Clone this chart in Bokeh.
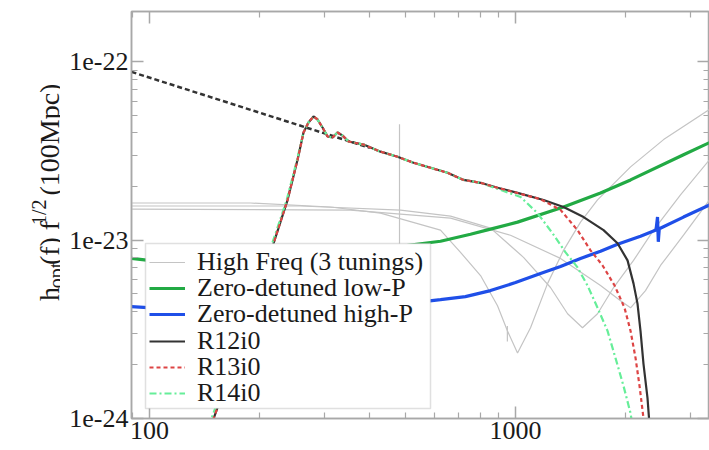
from math import pi
from bokeh.plotting import figure
from bokeh.layouts import row
from bokeh.models import (FixedTicker, CustomJSTickFormatter, LogAxis, Legend,
                          LegendItem, Range1d, Label, BoxAnnotation)
from bokeh.embed import file_html
from bokeh.resources import INLINE

# ---------------- data (frequency in Hz, h_opt(f) f^1/2 at 100 Mpc) ----------------
inspiral_f = [89.3, 400.0]
inspiral_h = [8.8e-23, 3.3e-23]

r12_f = [147, 166.4, 188.8, 218.3, 238.3, 253.8, 263.5, 271.9, 280.6, 287.7, 297.0, 306.5,
         316.2, 326.3, 336.7, 349.7, 384.4, 427.7, 476.0, 526.5, 586.0, 652.0, 721.0, 802.5,
         892.9, 1012.7, 1192.8, 1352.5, 1534, 1739.5, 1899.6, 2023, 2101, 2154, 2195, 2237,
         2294, 2330]
r12_h = [9.0e-25, 1.84e-24, 4.02e-24, 9.62e-24, 1.68e-23, 2.83e-23, 4.02e-23, 4.58e-23,
         4.95e-23, 4.76e-23, 4.29e-23, 3.82e-23, 3.77e-23, 4.02e-23, 3.87e-23, 3.58e-23,
         3.44e-23, 3.14e-23, 2.94e-23, 2.72e-23, 2.55e-23, 2.39e-23, 2.18e-23, 2.10e-23,
         1.97e-23, 1.843e-23, 1.683e-23, 1.536e-23, 1.349e-23, 1.139e-23, 9.62e-24, 7.71e-24,
         5.71e-24, 4.41e-24, 3.10e-24, 2.02e-24, 1.30e-24, 8.5e-25]

r13_f = [147, 166.4, 188.8, 218.3, 238.3, 253.8, 263.5, 271.9, 280.6, 287.7, 297.0, 306.5,
         316.2, 326.3, 336.7, 349.7, 384.4, 427.7, 476.0, 526.5, 586.0, 652.0, 721.0, 802.5,
         892.9, 1012.7, 1170, 1327, 1477, 1603, 1729, 1865, 1985, 2062, 2128, 2182, 2237, 2252]
r13_h = [9.0e-25, 1.84e-24, 4.02e-24, 9.62e-24, 1.68e-23, 2.83e-23, 4.02e-23, 4.58e-23,
         4.95e-23, 4.76e-23, 4.29e-23, 3.82e-23, 3.77e-23, 4.02e-23, 3.87e-23, 3.58e-23,
         3.44e-23, 3.14e-23, 2.94e-23, 2.72e-23, 2.55e-23, 2.39e-23, 2.18e-23, 2.10e-23,
         1.97e-23, 1.84e-23, 1.70e-23, 1.48e-23, 1.139e-23, 8.78e-24, 7.22e-24, 5.57e-24,
         4.18e-24, 3.10e-24, 2.18e-24, 1.52e-24, 1.0e-24, 8.5e-25]

r14_f = [145, 164.5, 186.5, 216.5, 237.0, 253.0, 263.5, 271.9, 280.6, 287.7, 297.0, 306.5,
         316.2, 326.3, 336.7, 349.7, 384.4, 427.7, 476.0, 526.5, 586.0, 652.0, 721.0, 802.5,
         910, 1032, 1148, 1262, 1370, 1477, 1573, 1675, 1784, 1876, 1973, 2062, 2088]
r14_h = [9.0e-25, 1.84e-24, 4.02e-24, 9.62e-24, 1.68e-23, 2.83e-23, 4.02e-23, 4.58e-23,
         4.95e-23, 4.76e-23, 4.29e-23, 3.82e-23, 3.77e-23, 4.02e-23, 3.87e-23, 3.58e-23,
         3.44e-23, 3.14e-23, 2.94e-23, 2.72e-23, 2.55e-23, 2.39e-23, 2.18e-23, 2.10e-23,
         1.916e-23, 1.75e-23, 1.42e-23, 1.095e-23, 8.55e-24, 7.04e-24, 5.57e-24, 4.18e-24,
         3.10e-24, 2.18e-24, 1.52e-24, 1.07e-24, 9.0e-25]

zdlp_f = [89.3, 137.8, 201.1, 293.2, 377.2, 485.1, 623.8, 753.4, 854.5, 1012.7, 1352.5,
          1707, 2062, 2877, 3388]
zdlp_h = [7.91e-24, 7.13e-24, 6.95e-24, 7.41e-24, 8.12e-24, 9.25e-24, 9.87e-24, 1.081e-23,
          1.154e-23, 1.264e-23, 1.536e-23, 1.843e-23, 2.18e-23, 3.02e-23, 3.53e-23]

zdhp_f = [89.3, 137.8, 258.5, 427.7, 623.8, 729.6, 854.5, 1000, 1170, 1327, 1505, 1707,
          1899.6, 2195, 2420, 2443, 2455, 2470, 2877, 3388]
zdhp_h = [4.24e-24, 4.02e-24, 3.97e-24, 4.24e-24, 4.64e-24, 4.83e-24, 5.22e-24, 5.79e-24,
          6.51e-24, 7.13e-24, 7.91e-24, 8.67e-24, 9.49e-24, 1.053e-23, 1.14e-23, 1.35e-23,
          9.8e-24, 1.16e-23, 1.349e-23, 1.577e-23]

hfA_f = [89.3, 188.8, 312.3, 427.7, 623.8, 707.5, 802.5, 892.9, 950.7, 1012.7, 1099, 1223,
         1352.5, 1505, 1675, 2062, 2538, 3388]
hfA_h = [1.618e-23, 1.618e-23, 1.536e-23, 1.42e-23, 1.139e-23, 8.55e-24, 6.34e-24, 4.29e-24,
         3.10e-24, 2.33e-24, 3.23e-24, 5.71e-24, 8.78e-24, 1.264e-23, 1.683e-23, 2.58e-23,
         3.67e-23, 5.42e-23]

hfB_f = [89.3, 258.5, 485.1, 664.5, 854.5, 1051.6, 1246, 1387.5, 1524, 1675, 1853, 2101,
         2383, 2823, 3388]
hfB_h = [1.556e-23, 1.556e-23, 1.477e-23, 1.366e-23, 1.169e-23, 8.02e-24, 5.43e-24,
         3.87e-24, 3.23e-24, 3.87e-24, 5.43e-24, 7.71e-24, 1.139e-23, 1.795e-23, 2.83e-23]

hfC_f = [89.3, 354.1, 664.5, 969, 1327, 1707, 1936, 2062, 2265, 2490, 2877, 3388]
hfC_h = [1.496e-23, 1.477e-23, 1.331e-23, 1.067e-23, 7.91e-24, 5.57e-24, 4.58e-24,
         4.18e-24, 5.22e-24, 7.22e-24, 1.067e-23, 1.683e-23]

violin_f = [482, 482]
violin_h = [4.47e-23, 7.0e-24]
notch_f = [950, 950]
notch_h = [3.3e-24, 2.7e-24]

x_major = [100, 1000]
x_minor = [90, 200, 300, 400, 500, 600, 700, 800, 900, 2000, 3000]
y_major = [1e-24, 1e-23, 1e-22]
y_minor = [m * 10.0 ** e for e in (-24, -23, -22) for m in range(2, 10)]

legend_labels = ["High Freq (3 tunings)", "Zero-detuned low-P", "Zero-detuned high-P",
                 "R12i0", "R13i0", "R14i0"]

# y-axis title pieces: h_opt(f) f^{1/2} (100Mpc)
ytitle_text = ["h", "opt", "(f) f", "1/2", "(100Mpc)"]
ytitle_size = ["28px", "20px", "28px", "20px", "28px"]
ytitle_x = [49, 55, 49, 38, 49]
ytitle_y = [130, 144, 169.6, 213.9, 246.5]

# legend layout (screen px from the frame's bottom-left corner)
legend_box = dict(left=14, right=299, bottom=10, top=175)
legend_row_y = [141, 114.8, 88.6, 62.4, 36.2, 10]

# ---------------- figures ----------------
FONT = "Liberation Serif"
AX = "#a8a8a8"
TXT = "#1a1a1a"

# narrow panel carrying the rotated y-axis title
t = figure(width=60, height=450, x_range=Range1d(0, 60), y_range=Range1d(0, 450),
           output_backend="svg", toolbar_location=None, min_border=0)
t.axis.visible = False
t.grid.visible = False
t.outline_line_color = None
t.background_fill_color = "white"
t.border_fill_color = "white"
for txt, fs, tx, ty in zip(ytitle_text, ytitle_size, ytitle_x, ytitle_y):
    t.add_layout(Label(x=tx, y=ty, text=txt, angle=pi / 2, text_font=FONT,
                       text_font_size=fs, text_color=TXT, text_align="left",
                       text_baseline="alphabetic"))

p = figure(width=649, height=450, x_axis_type="log", y_axis_type="log",
           x_range=Range1d(89.3, 3388), y_range=Range1d(1e-24, 1.92e-22),
           output_backend="svg", toolbar_location=None,
           min_border_left=71, min_border_right=0, min_border_top=11,
           min_border_bottom=32)
p.background_fill_color = "white"
p.border_fill_color = "white"
p.outline_line_color = AX
p.outline_line_width = 1.5
p.xgrid.visible = False
p.ygrid.visible = False


def style_axis(ax, ticks, minor, show_labels, fmt_code):
    ax.ticker = FixedTicker(ticks=ticks, minor_ticks=minor)
    ax.formatter = CustomJSTickFormatter(code=fmt_code)
    ax.axis_line_color = AX
    ax.axis_line_width = 1.5
    ax.major_tick_line_color = AX
    ax.minor_tick_line_color = AX
    ax.major_tick_line_width = 1.5
    ax.minor_tick_line_width = 1.2
    ax.major_tick_in = 12
    ax.major_tick_out = 0
    ax.minor_tick_in = 6
    ax.minor_tick_out = 0
    ax.major_label_text_font = FONT
    ax.major_label_text_color = TXT
    if show_labels:
        ax.major_label_text_font_size = "26px"
        ax.major_label_standoff = 3
    else:
        ax.major_label_text_font_size = "0px"
        ax.major_label_standoff = 0


xfmt = "return tick.toFixed(0);"
yfmt = "return tick.toExponential(0).replace('+', '');"
style_axis(p.xaxis[0], x_major, x_minor, True, xfmt)
style_axis(p.yaxis[0], y_major, y_minor, True, yfmt)

top = LogAxis()
style_axis(top, x_major, x_minor, False, xfmt)
p.add_layout(top, "above")
right = LogAxis()
style_axis(right, y_major, y_minor, False, yfmt)
p.add_layout(right, "right")

# ---------------- curves ----------------
GRAY = "#c4c4c4"
hf_rs = []
for fx, hy in ((hfA_f, hfA_h), (hfB_f, hfB_h), (hfC_f, hfC_h), (violin_f, violin_h),
               (notch_f, notch_h)):
    hf_rs.append(p.line(fx, hy, line_color=GRAY, line_width=1.2))

r_insp = p.line(inspiral_f, inspiral_h, line_color="#333333", line_width=2.5,
                line_dash="5 3")
r_lp = p.line(zdlp_f, zdlp_h, line_color="#22aa44", line_width=3.2)
r_hp = p.line(zdhp_f, zdhp_h, line_color="#1f4fe8", line_width=3.2)
r12 = p.line(r12_f, r12_h, line_color="#333333", line_width=2.2)
r14 = p.line(r14_f, r14_h, line_color="#66ee99", line_width=2.2, line_dash="7 3 2 3")
r13 = p.line(r13_f, r13_h, line_color="#dd4444", line_width=2.2, line_dash="4 3")

# ---------------- legend: white framed box + one row per entry ----------------
p.add_layout(BoxAnnotation(left=legend_box["left"], right=legend_box["right"],
                           bottom=legend_box["bottom"], top=legend_box["top"],
                           left_units="screen", right_units="screen",
                           bottom_units="screen", top_units="screen",
                           fill_color="white", fill_alpha=1.0,
                           line_color="#999999", line_width=1.5))

for lab, rend, ly in zip(legend_labels, [hf_rs[0], r_lp, r_hp, r12, r13, r14], legend_row_y):
    lg = Legend(items=[LegendItem(label=lab, renderers=[rend])])
    lg.location = (legend_box["left"] + 4, ly)
    lg.margin = 0
    lg.padding = 0
    lg.spacing = 0
    lg.glyph_width = 36
    lg.glyph_height = 20
    lg.label_standoff = 12
    lg.label_text_font = FONT
    lg.label_text_font_size = "26px"
    lg.label_text_color = TXT
    lg.border_line_color = None
    lg.background_fill_alpha = 0.0
    p.add_layout(lg)

layout = row(t, p, spacing=0)
open("out.html", "w").write(file_html(layout, INLINE))
